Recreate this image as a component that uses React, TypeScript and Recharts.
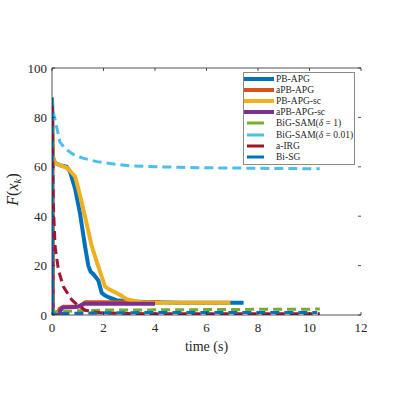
import React from 'react';
import { LineChart, Line, XAxis, YAxis, Legend } from 'recharts';

const xTicks = [0, 2, 4, 6, 8, 10, 12];
const yTicks = [0, 20, 40, 60, 80, 100];

const pbApgT = [0, 0.03, 0.12, 0.35, 0.57, 0.7, 0.9, 1.09, 1.28, 1.41, 1.5, 1.61, 1.8, 1.93, 2.05, 2.19, 2.5, 3.0, 4.0, 5.0, 6.0, 7.44];
const pbApgV = [88, 64, 61.5, 60.5, 60, 58, 51, 41, 28, 20, 17.5, 16.5, 14, 9, 8, 7.2, 6, 5.5, 5.2, 5, 5, 5];

const aPbApgT = [0, 0.03, 0.2, 0.3, 0.45, 1.0, 1.15, 1.3, 2, 3, 4.2];
const aPbApgV = [88, 0.3, 0.3, 2.5, 3.3, 3.4, 4, 5.2, 5.2, 5.2, 5.2];

const pbApgScT = [0, 0.03, 0.12, 0.35, 0.6, 0.9, 1.1, 1.28, 1.54, 1.8, 2.06, 2.2, 2.39, 2.65, 2.9, 3.16, 3.5, 4, 5, 6, 6.93];
const pbApgScV = [88, 64, 61.5, 60.5, 59.5, 56, 48, 40, 28, 19.6, 11.5, 10.5, 9.5, 8.1, 6.4, 5.8, 5.2, 5, 5, 5, 5];

const aPbApgScT = [0, 0.03, 0.25, 0.4, 0.9, 1.05, 1.25, 2, 3, 4.0];
const aPbApgScV = [85, 0.5, 0.5, 3, 3.2, 3.5, 4.6, 4.6, 4.6, 4.6];

const bigSam1T = [0, 0.05, 0.5, 1, 2, 3, 4, 5, 6, 7, 8, 9, 10.4];
const bigSam1V = [88, 1.3, 1.4, 1.7, 2, 2, 2.1, 2.1, 2.2, 2.2, 2.3, 2.3, 2.4];

const bigSam001T = [0, 0.05, 0.12, 0.31, 0.5, 0.83, 1.2, 1.74, 2.5, 3.03, 4, 5, 6, 7, 8, 9, 10.4];
const bigSam001V = [88, 82, 79, 70, 67.5, 65, 63.5, 62.1, 61, 60.4, 60, 59.8, 59.6, 59.5, 59.4, 59.3, 59.2];

const aIrgT = [0, 0.05, 0.12, 0.25, 0.44, 0.77, 1.0, 1.28, 1.6, 2, 3, 4, 6, 8, 10.4];
const aIrgV = [85, 45, 27.7, 18.2, 11.5, 6.1, 4, 2, 1.2, 0.8, 0.6, 0.5, 0.5, 0.5, 0.5];

const biSgT = [0, 0.02, 0.5, 2, 4, 6, 8, 10.3];
const biSgV = [88, 0.5, 0.6, 0.9, 1, 1, 1, 1];

const names = ['PB-APG', 'aPB-APG', 'PB-APG-sc', 'aPB-APG-sc', 'BiG-SAM1', 'BiG-SAM001', 'a-IRG', 'Bi-SG'];
const colors = ['#0072BD', '#D95319', '#EDB120', '#7E2F8E', '#77AC30', '#4DBEEE', '#A2142F', '#0072BD'];

const toData = (t: number[], v: number[]) => t.map((x, i) => ({ t: x, v: v[i] }));

const series = [
  { name: names[0], data: toData(pbApgT, pbApgV), color: colors[0], dashed: false },
  { name: names[1], data: toData(aPbApgT, aPbApgV), color: colors[1], dashed: false },
  { name: names[2], data: toData(pbApgScT, pbApgScV), color: colors[2], dashed: false },
  { name: names[3], data: toData(aPbApgScT, aPbApgScV), color: colors[3], dashed: false },
  { name: names[4], data: toData(bigSam1T, bigSam1V), color: colors[4], dashed: true },
  { name: names[5], data: toData(bigSam001T, bigSam001V), color: colors[5], dashed: true },
  { name: names[6], data: toData(aIrgT, aIrgV), color: colors[6], dashed: true },
  { name: names[7], data: toData(biSgT, biSgV), color: colors[7], dashed: true },
];

const FONT = '"Liberation Serif", "DejaVu Serif", serif';
const AX = '#262626';

const labelFor = (name: string) => {
  if (name === 'BiG-SAM1')
    return (
      <span>
        BiG-SAM(<i>δ</i> = 1)
      </span>
    );
  if (name === 'BiG-SAM001')
    return (
      <span>
        BiG-SAM(<i>δ</i> = 0.01)
      </span>
    );
  return <span>{name}</span>;
};

const BottomTick = (props: any) => {
  const { x, y, payload } = props;
  return (
    <g>
      <line x1={x} x2={x} y1={y} y2={y - 3} stroke={AX} strokeWidth={0.8} />
      <text x={x} y={y + 17} textAnchor="middle" fontFamily={FONT} fontSize={13} fill={AX}>
        {payload.value}
      </text>
    </g>
  );
};

const TopTick = (props: any) => {
  const { x, y } = props;
  return <line x1={x} x2={x} y1={y} y2={y + 3} stroke={AX} strokeWidth={0.8} />;
};

const LeftTick = (props: any) => {
  const { x, y, payload } = props;
  return (
    <g>
      <line x1={x} x2={x + 3} y1={y} y2={y} stroke={AX} strokeWidth={0.8} />
      <text x={x - 5} y={y} dy="0.35em" textAnchor="end" fontFamily={FONT} fontSize={13} fill={AX}>
        {payload.value}
      </text>
    </g>
  );
};

const RightTick = (props: any) => {
  const { x, y } = props;
  return <line x1={x} x2={x - 3} y1={y} y2={y} stroke={AX} strokeWidth={0.8} />;
};

const YLabel = (props: any) => {
  const vb = props.viewBox || { x: 51, y: 68, width: 1, height: 247 };
  const cx = vb.x + vb.width - 34;
  const cy = vb.y + vb.height / 2 - 2;
  return (
    <text
      x={cx}
      y={cy}
      transform={`rotate(-90, ${cx}, ${cy})`}
      textAnchor="middle"
      fontFamily={FONT}
      fontSize={16}
      fill={AX}
    >
      <tspan fontStyle="italic">F</tspan>
      <tspan>(</tspan>
      <tspan fontStyle="italic">x</tspan>
      <tspan fontStyle="italic" fontSize={11} dy={3}>k</tspan>
      <tspan dy={-3}>)</tspan>
    </text>
  );
};

const XLabel = (props: any) => {
  const vb = props.viewBox || { x: 52, y: 315, width: 309, height: 1 };
  return (
    <text x={vb.x + vb.width / 2} y={vb.y + 36} textAnchor="middle" fontFamily={FONT} fontSize={14} fill={AX}>
      time (s)
    </text>
  );
};

const LegendBox = () => (
  <div
    style={{
      width: 112,
      background: '#fff',
      border: '1px solid #8a8a8a',
      boxSizing: 'border-box',
      padding: '1px 0 2px 0',
      fontFamily: FONT,
      fontSize: 9.5,
      color: '#262626',
    }}
  >
    {series.map((s, i) => (
      <div key={s.name} style={{ display: 'flex', alignItems: 'center', height: i >= 4 && i <= 5 ? 11.8 : 10.8 }}>
        <svg width={31} height={8} style={{ flex: 'none' }}>
          {s.dashed ? (
            <line x1={3} x2={20} y1={4} y2={4} stroke={s.color} strokeWidth={3} />
          ) : (
            <line x1={0} x2={30} y1={4} y2={4} stroke={s.color} strokeWidth={4} />
          )}
        </svg>
        <div style={{ marginLeft: 1, whiteSpace: 'nowrap', lineHeight: '10px' }}>{labelFor(s.name)}</div>
      </div>
    ))}
  </div>
);

export default function App() {
  return (
    <div style={{ position: 'absolute', left: 0, top: 0, width: 399, height: 396, background: '#fff' }}>
      <LineChart width={399} height={396} margin={{ top: 67, right: 37, bottom: 80, left: 51 }}>
        <XAxis
          xAxisId={0}
          dataKey="t"
          type="number"
          domain={[0, 12]}
          ticks={xTicks}
          height={1}
          tickSize={0}
          tickMargin={0}
          tickLine={false}
          axisLine={{ stroke: AX, strokeWidth: 0.8 }}
          tick={<BottomTick />}
          interval={0}
          allowDataOverflow
          label={<XLabel />}
        />
        <XAxis
          xAxisId="top"
          orientation="top"
          dataKey="t"
          type="number"
          domain={[0, 12]}
          ticks={xTicks}
          height={1}
          tickSize={0}
          tickMargin={0}
          tickLine={false}
          axisLine={{ stroke: AX, strokeWidth: 0.8 }}
          tick={<TopTick />}
          interval={0}
          allowDataOverflow
        />
        <YAxis
          yAxisId={0}
          type="number"
          domain={[0, 100]}
          ticks={yTicks}
          width={1}
          tickSize={0}
          tickMargin={0}
          tickLine={false}
          axisLine={{ stroke: AX, strokeWidth: 0.8 }}
          tick={<LeftTick />}
          interval={0}
          allowDataOverflow
          label={<YLabel />}
        />
        <YAxis
          yAxisId="right"
          orientation="right"
          type="number"
          domain={[0, 100]}
          ticks={yTicks}
          width={1}
          tickSize={0}
          tickMargin={0}
          tickLine={false}
          axisLine={false}
          tick={<RightTick />}
          interval={0}
          allowDataOverflow
        />
        {series.map((s) => (
          <Line
            key={s.name}
            xAxisId={0}
            yAxisId={0}
            data={s.data}
            dataKey="v"
            name={s.name}
            type="linear"
            stroke={s.color}
            strokeWidth={s.dashed ? 3 : 4}
            strokeDasharray={s.dashed ? '9 5' : undefined}
            dot={false}
            activeDot={false}
            isAnimationActive={false}
          />
        ))}
        <Legend
          layout="horizontal"
          verticalAlign="middle"
          align="center"
          wrapperStyle={{ left: 243, top: 72, width: 112 }}
          content={() => <LegendBox />}
        />
      </LineChart>
    </div>
  );
}
